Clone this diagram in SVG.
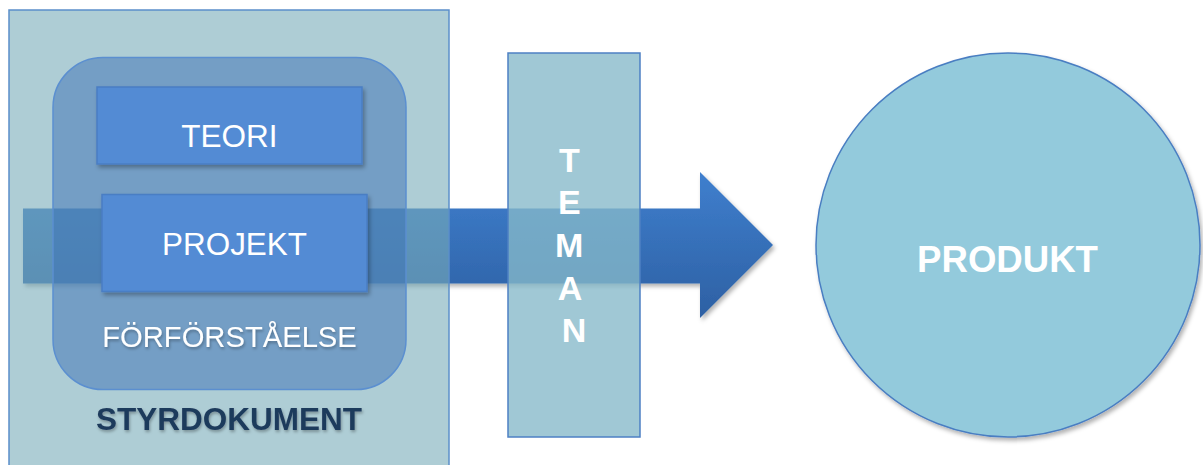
<svg xmlns="http://www.w3.org/2000/svg" width="1203" height="465" viewBox="0 0 1203 465">
<defs>
<linearGradient id="arrowGrad" x1="0" y1="0" x2="0" y2="1">
<stop offset="0" stop-color="#3f7fce"/>
<stop offset="1" stop-color="#2d60a3"/>
</linearGradient>
<filter id="shadow" x="-10%" y="-10%" width="130%" height="130%">
<feDropShadow dx="2" dy="3" stdDeviation="2" flood-color="#000" flood-opacity="0.3"/>
</filter>
<filter id="tshadow" x="-10%" y="-30%" width="120%" height="160%">
<feDropShadow dx="1" dy="2" stdDeviation="1.5" flood-color="#000" flood-opacity="0.3"/>
</filter>
</defs>
<style>
.lbl{font-family:"Liberation Sans",Arial,sans-serif;text-anchor:middle;fill:#ffffff}
.bold{font-weight:bold}
.box{fill:#528bd4;stroke:#4a7ec4;stroke-width:1.5}
</style>
<rect width="1203" height="465" fill="#ffffff"/>
<g id="connectors">
<path d="M23,208.5 H700 V172 L773,245 L700,318 V283.5 H23 Z" fill="url(#arrowGrad)" filter="url(#shadow)"/>
</g>
<g id="styrdokument">
<rect x="9" y="10" width="440" height="470" fill="#78acb9" fill-opacity="0.6" stroke="#5b8fca" stroke-width="1.5"/>
<text class="lbl bold" x="229" y="430" font-size="31.5" style="fill:#1f3a5c" filter="url(#tshadow)">STYRDOKUMENT</text>
</g>
<g id="forforstaelse">
<rect x="53" y="57.5" width="353" height="332" rx="50" ry="50" fill="#3a6fb5" fill-opacity="0.5" stroke="#5b8fd0" stroke-width="1.5"/>
<text class="lbl" x="229.5" y="347" font-size="29.2" filter="url(#tshadow)">FÖRFÖRSTÅELSE</text>
</g>
<g id="teori">
<rect class="box" x="97" y="87" width="265" height="77" filter="url(#shadow)"/>
<text class="lbl" x="229.5" y="147" font-size="31.5">TEORI</text>
</g>
<g id="projekt">
<rect class="box" x="102" y="194.5" width="265" height="97" filter="url(#shadow)"/>
<text class="lbl" x="234.5" y="255" font-size="31.4">PROJEKT</text>
</g>
<g id="teman">
<rect x="508" y="53" width="132" height="384" fill="#85b9c9" fill-opacity="0.78" stroke="#4d80c4" stroke-width="1.5"/>
<text class="lbl bold" font-size="34">
<tspan x="574" y="172">T</tspan>
<tspan x="574" y="214">E</tspan>
<tspan x="574" y="257">M</tspan>
<tspan x="574" y="299.5">A</tspan>
<tspan x="574" y="342">N</tspan>
</text>
</g>
<g id="produkt">
<circle cx="1008" cy="245" r="192" fill="#93cadc" stroke="#4a7ec2" stroke-width="1.5" filter="url(#shadow)"/>
<text class="lbl bold" x="1007.5" y="272" font-size="36.6">PRODUKT</text>
</g>
</svg>
